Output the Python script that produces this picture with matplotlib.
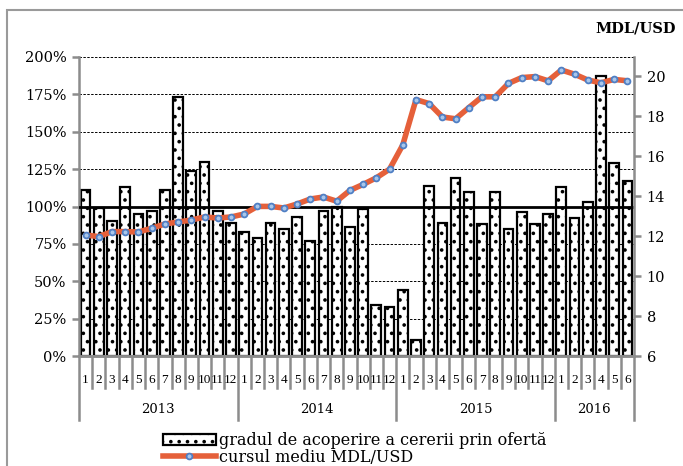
import matplotlib

matplotlib.use("Agg")
import matplotlib.pyplot as plt
import numpy as np
from matplotlib.patches import Patch, Rectangle
from matplotlib.lines import Line2D
from matplotlib.ticker import FuncFormatter

# --- data -------------------------------------------------------------------
years = ["2013", "2014", "2015", "2016"]
months_per_year = [12, 12, 12, 6]

# gradul de acoperire a cererii prin oferta (%)
coverage = [
    111, 99, 90, 113, 95, 97, 111, 173, 124, 130, 97, 89,      # 2013
    83, 79, 89, 85, 93, 77, 97, 100, 86, 98, 34, 33,           # 2014
    44, 11, 114, 89, 119, 110, 88, 110, 85, 96, 88, 95,        # 2015
    113, 92, 103, 187, 129, 117,                               # 2016
]

# cursul mediu MDL/USD
rate = [
    12.05, 11.97, 12.22, 12.22, 12.20, 12.39, 12.60, 12.70, 12.80, 12.95, 12.90, 12.95,
    13.10, 13.48, 13.48, 13.40, 13.60, 13.85, 13.95, 13.74, 14.28, 14.58, 14.91, 15.34,
    16.55, 18.82, 18.62, 17.95, 17.86, 18.42, 18.96, 18.96, 19.63, 19.92, 19.97, 19.76,
    20.30, 20.09, 19.80, 19.66, 19.83, 19.76,
]

threshold = 100  # 100% reference line

left_ticks = [0, 25, 50, 75, 100, 125, 150, 175, 200]
right_ticks = [6, 8, 10, 12, 14, 16, 18, 20]

label_bars = "gradul de acoperire a cererii prin ofertă"
label_line = "cursul mediu MDL/USD"

# --- styling ----------------------------------------------------------------
_ORANGE = "#E5603A"
_MARKER_EDGE = "#4F7FC4"
_MARKER_FACE = "#A9C6EA"
_AXIS_GREY = "#8c8c8c"
_FONT = "DejaVu Serif"

plt.rcParams["font.family"] = _FONT
plt.rcParams["hatch.linewidth"] = 1.4
plt.rcParams["hatch.color"] = "black"

fig = plt.figure(figsize=(6.83, 4.66), dpi=100)
ax = fig.add_axes([79 / 683, 1 - 356 / 466, (634 - 79) / 683, (356 - 57) / 466])
ax2 = ax.twinx()

n = len(coverage)
x = np.arange(n)

# gridlines behind the bars
for t in left_ticks[1:]:
    ax.axhline(t, color="black", linestyle=(0, (2.5, 1.5)), linewidth=0.7, zorder=0)

ax.bar(x, coverage, width=0.74, facecolor="white", edgecolor="black",
       linewidth=1.6, hatch="..", zorder=2)
ax.axhline(threshold, color="black", linewidth=2.0, zorder=3)

ax.set_xlim(-0.5, n - 0.5)
ax.set_ylim(0, 200)
ax.set_yticks(left_ticks)
ax.yaxis.set_major_formatter(FuncFormatter(lambda v, _: f"{v:.0f}%"))

ax2.plot(x, rate, color=_ORANGE, linewidth=4.0, solid_capstyle="round",
         marker="o", markersize=4.2, markerfacecolor=_MARKER_FACE,
         markeredgecolor=_MARKER_EDGE, markeredgewidth=1.3, zorder=5)
ax2.set_ylim(6, 20.95)
ax2.set_yticks(right_ticks)
ax.set_zorder(ax2.get_zorder() - 1)
ax.patch.set_visible(False)

for a in (ax, ax2):
    a.spines["top"].set_visible(False)
    for side in ("left", "right", "bottom"):
        a.spines[side].set_color(_AXIS_GREY)
    for s in a.spines.values():
        s.set_linewidth(1.8)
    a.tick_params(axis="y", colors=_AXIS_GREY, width=1.8, length=5,
                  labelsize=10.5, labelcolor="black", pad=4)
ax.spines["right"].set_visible(False)
ax2.spines["left"].set_visible(False)

# category axis: months with year groups
ax.set_xticks([])
trans = ax.get_xaxis_transform()
pos = 0
for yr, cnt in zip(years, months_per_year):
    start = pos - 0.5
    ax.plot([start, start], [0, -0.214], transform=trans, color=_AXIS_GREY,
            linewidth=1.8, clip_on=False)
    for m in range(cnt):
        i = pos + m
        if m > 0:
            ax.plot([i - 0.5, i - 0.5], [0, -0.107], transform=trans,
                    color=_AXIS_GREY, linewidth=1.8, clip_on=False)
        ax.text(i, -0.08, str(m + 1), transform=trans, ha="center",
                va="center", fontsize=9.5, family="Liberation Serif")
    ax.text(pos + cnt / 2 - 0.5, -0.18, yr, transform=trans, ha="center",
            va="center", fontsize=9.5)
    pos += cnt
ax.plot([pos - 0.5, pos - 0.5], [0, -0.214], transform=trans,
        color=_AXIS_GREY, linewidth=1.8, clip_on=False)

fig.text(676 / 683, 1 - 28 / 466, "MDL/USD", ha="right", va="center",
         fontsize=10.5, fontweight="bold")

handles = [
    Patch(facecolor="white", edgecolor="black", linewidth=1.6, hatch=".."),
    Line2D([], [], color=_ORANGE, linewidth=4.0, marker="o", markersize=4.2,
           markerfacecolor=_MARKER_FACE, markeredgecolor=_MARKER_EDGE,
           markeredgewidth=1.3),
]
fig.legend(handles, [label_bars, label_line], loc="upper left",
           bbox_to_anchor=(155 / 683, 1 - 424 / 466), frameon=False,
           fontsize=11.5, handlelength=3.3, handleheight=0.7,
           handletextpad=0.2, labelspacing=0.0, borderpad=0,
           numpoints=1)

# outer frame (runs off the right/bottom edge like the cropped original)
fig.patches.append(Rectangle((7 / 683, -0.05), 1.1, 1 - 10 / 466 + 0.05,
                             transform=fig.transFigure, fill=False,
                             edgecolor="#9a9a9a", linewidth=1.5))

fig.savefig("out.png", dpi=100, facecolor="white")
